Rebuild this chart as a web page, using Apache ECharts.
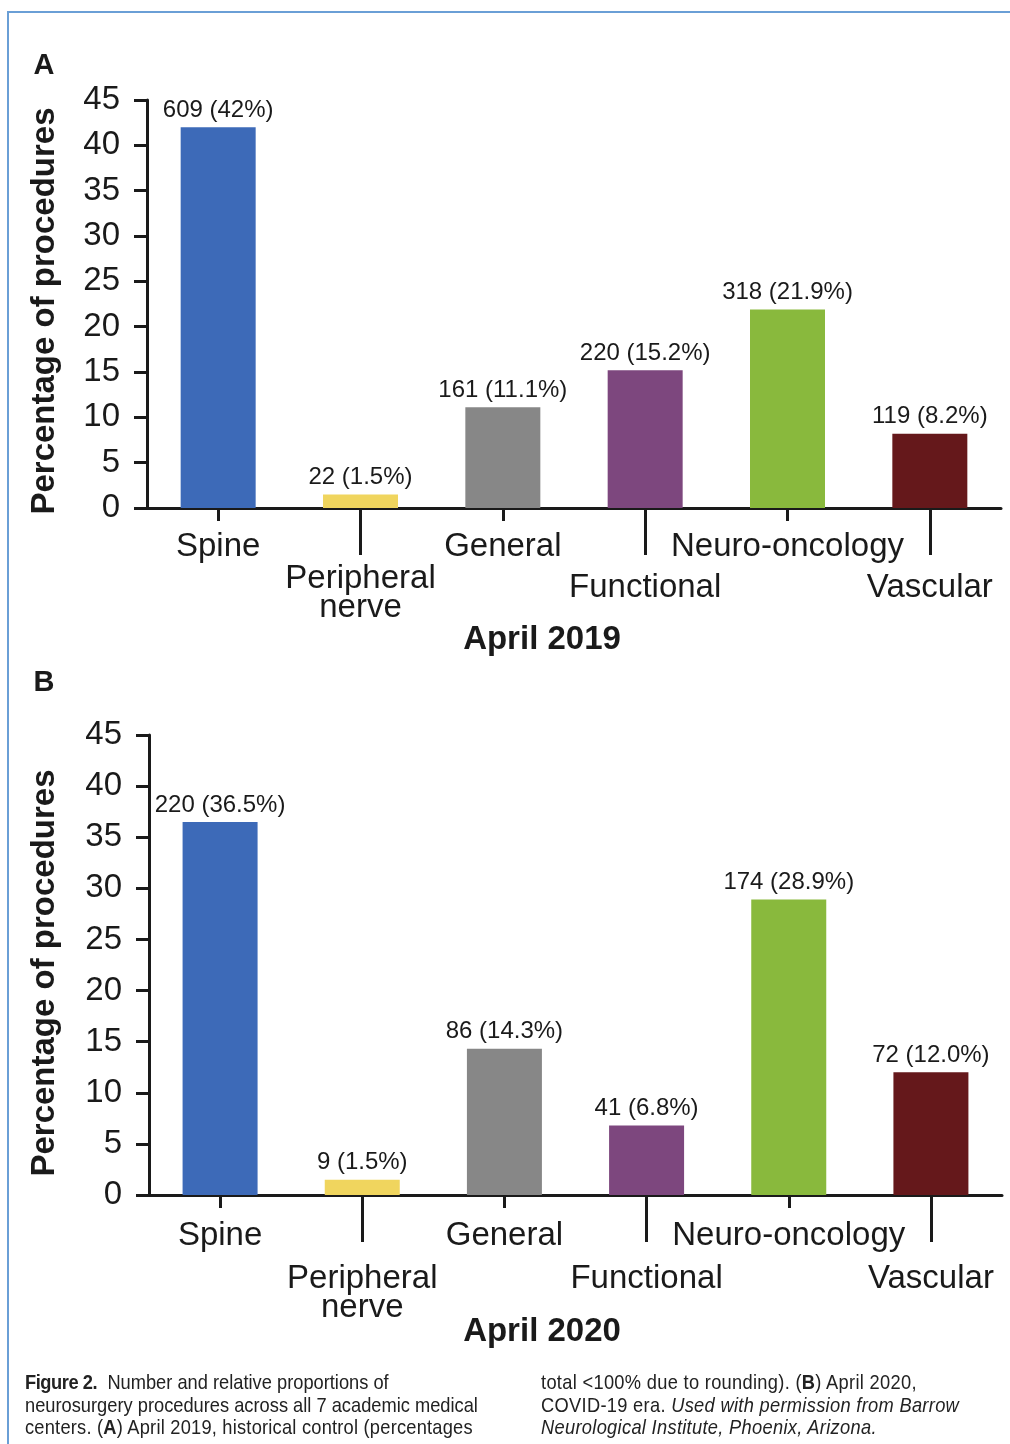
<!DOCTYPE html>
<html><head><meta charset="utf-8">
<script src="https://cdn.jsdelivr.net/npm/echarts@6/dist/echarts.min.js"></script>
<style>
html,body{margin:0;padding:0;background:#fff;}
#chart{position:absolute;left:0;top:0;width:1010px;height:1444px;}
.cap{position:absolute;font-family:'Liberation Sans',Arial,sans-serif;font-size:21px;line-height:22.5px;color:#222;white-space:nowrap;transform:scaleX(0.87);transform-origin:0 0;}
.cap b{font-weight:bold;}
.bl{position:absolute;background:#6a9fd6;}
</style></head><body>
<div id="chart"></div>
<div class="bl" style="left:7px;top:11px;width:1003px;height:2px"></div>
<div class="bl" style="left:7px;top:11px;width:2px;height:1433px"></div>
<div class="cap" style="left:25px;top:1371px"><b style="letter-spacing:-0.5px">Figure 2.</b>&nbsp; Number and relative proportions of<br>neurosurgery procedures across all 7 academic medical<br><span style="letter-spacing:0.25px">centers. (<b>A</b>) April 2019, historical control (percentages</span></div>
<div class="cap" style="left:541px;top:1371px;letter-spacing:0.35px">total &lt;100% due to rounding). (<b>B</b>) April 2020,<br>COVID-19 era. <i>Used with permission from Barrow</i><br><i>Neurological Institute, Phoenix, Arizona.</i></div>
<script>
// ---- data ----
const categories = ['Spine', 'Peripheral\nnerve', 'General', 'Functional', 'Neuro-oncology', 'Vascular'];
const counts2019 = [609, 22, 161, 220, 318, 119];
const pctText2019 = ['42', '1.5', '11.1', '15.2', '21.9', '8.2'];
const counts2020 = [220, 9, 86, 41, 174, 72];
const pctText2020 = ['36.5', '1.5', '14.3', '6.8', '28.9', '12.0'];
const yTicks = { min: 0, max: 45, interval: 5 };
const barColors = ['#3d6ab8', '#f0d55e', '#878787', '#7d477e', '#89b93d', '#65181b'];

const ink = '#1a1a1a';
const FF = '"Liberation Sans", Arial, Helvetica, sans-serif';

const panels = [
  { top: 100, height: 408, left: 147, width: 854, counts: counts2019, pct: pctText2019, oddPad: 18, evenMargin: 22, oddMargin: 56 },
  { top: 735, height: 460, left: 149, width: 853, counts: counts2020, pct: pctText2020, oddPad: 0, evenMargin: 24, oddMargin: 69 }
];

const grid = [], xAxis = [], yAxis = [], series = [];
panels.forEach((p, g) => {
  grid.push({ left: p.left, top: p.top, width: p.width, height: p.height, containLabel: false });
  xAxis.push({
    type: 'category', gridIndex: g, data: categories, position: 'bottom',
    axisLine: { show: true, onZero: false, lineStyle: { color: ink, width: 3 } },
    axisTick: { show: true, alignWithLabel: true, length: 13, interval: (i) => i % 2 === 0, lineStyle: { color: ink, width: 3 } },
    axisLabel: { interval: (i) => i % 2 === 0, margin: p.evenMargin, fontSize: 33, color: ink, fontFamily: FF }
  });
  xAxis.push({
    type: 'category', gridIndex: g, data: categories, position: 'bottom',
    axisLine: { show: false, onZero: false },
    axisTick: { show: true, alignWithLabel: true, length: 47, interval: (i) => i % 2 === 1, lineStyle: { color: ink, width: 3 } },
    axisLabel: {
      interval: (i) => i % 2 === 1, margin: p.oddMargin, fontSize: 33, lineHeight: 29, color: ink, fontFamily: FF,
      formatter: (v) => v.indexOf('\n') >= 0 ? v : '{s|' + v + '}',
      rich: { s: { fontSize: 33, lineHeight: 29, color: ink, fontFamily: FF, padding: [p.oddPad, 0, 0, 0] } }
    }
  });
  yAxis.push({
    type: 'value', gridIndex: g, min: yTicks.min, max: yTicks.max, interval: yTicks.interval,
    axisLine: { show: true, lineStyle: { color: ink, width: 3 } },
    axisTick: { show: true, length: 13, lineStyle: { color: ink, width: 3 } },
    splitLine: { show: false },
    axisLabel: { fontSize: 33, margin: 27, color: ink, fontFamily: FF }
  });
  series.push({
    type: 'bar', xAxisIndex: g * 2, yAxisIndex: g, barWidth: 75,
    data: p.pct.map((v, i) => ({ value: parseFloat(v), itemStyle: { color: barColors[i] } })),
    label: {
      show: true, position: 'top', distance: 5, fontSize: 24, color: ink, fontFamily: FF,
      formatter: (d) => p.counts[d.dataIndex] + ' (' + p.pct[d.dataIndex] + '%)'
    }
  });
});

const chart = echarts.init(document.getElementById('chart'));
chart.setOption({
  animation: false,
  backgroundColor: 'transparent',
  grid, xAxis, yAxis, series,
  graphic: [
    { type: 'text', x: 44, y: 66, style: { text: 'A', font: 'bold 29px "Liberation Sans", Arial', fill: ink, textAlign: 'center', textVerticalAlign: 'middle' } },
    { type: 'text', x: 44, y: 683, style: { text: 'B', font: 'bold 29px "Liberation Sans", Arial', fill: ink, textAlign: 'center', textVerticalAlign: 'middle' } },
    { type: 'text', x: 542, y: 640, style: { text: 'April 2019', font: 'bold 33px "Liberation Sans", Arial', fill: ink, textAlign: 'center', textVerticalAlign: 'middle' } },
    { type: 'text', x: 542, y: 1332, style: { text: 'April 2020', font: 'bold 33px "Liberation Sans", Arial', fill: ink, textAlign: 'center', textVerticalAlign: 'middle' } },
    { type: 'text', x: 45, y: 311, rotation: Math.PI / 2, style: { text: 'Percentage of procedures', font: 'bold 33px "Liberation Sans", Arial', fill: ink, textAlign: 'center', textVerticalAlign: 'middle' } },
    { type: 'text', x: 45, y: 973, rotation: Math.PI / 2, style: { text: 'Percentage of procedures', font: 'bold 33px "Liberation Sans", Arial', fill: ink, textAlign: 'center', textVerticalAlign: 'middle' } }
  ]
});
</script>
</body></html>
